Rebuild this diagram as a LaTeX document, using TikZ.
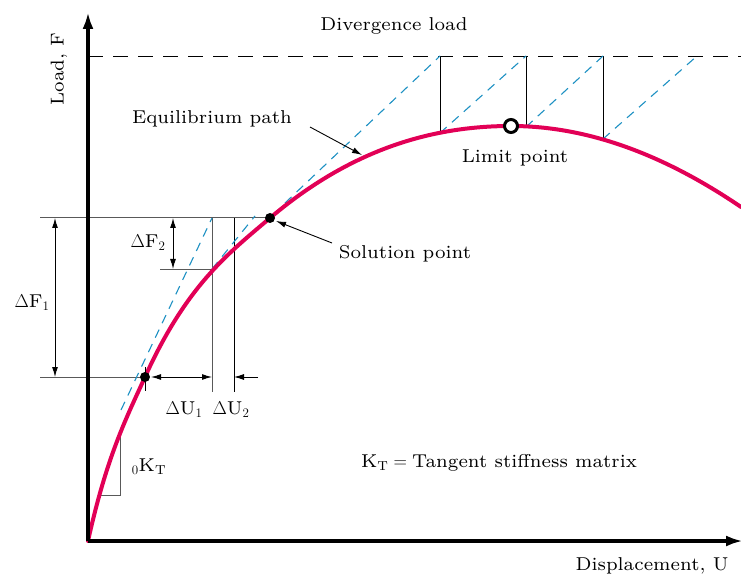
\RequirePackage{fix-cm}
\documentclass[tikz,border=0pt]{standalone}
\usepackage{fontspec}
\setmainfont{lmroman7-regular.otf}
\usepackage{amsmath}
\usepackage{tikz}
\usetikzlibrary{arrows.meta,positioning}
\definecolor{pathred}{RGB}{226,0,86}
\definecolor{tanblue}{RGB}{30,145,195}

\begin{document}
\begin{tikzpicture}[x=1pt,y=-1pt,lab/.style={font=\fontsize{18.6}{22}\selectfont,inner sep=0pt},
  axis/.style={line width=3.5pt,-{Latex[length=17pt,width=11pt]}},
  dim/.style={black!65,line width=1pt},dimarr/.style={line width=1pt,{Latex[length=10pt,width=6pt]}-{Latex[length=10pt,width=6pt]}},
  tang/.style={tanblue,line width=1.1pt,dash pattern=on 9pt off 7pt},ptr/.style={line width=0.9pt,-{Latex[length=10pt,width=6pt]}}]
\useasboundingbox (0,0) rectangle (741,577);
% points on the path
\coordinate (O) at (88,541); \coordinate (S1) at (145,377); \coordinate (S2) at (270,218); \coordinate (P1) at (212,269);
\coordinate (LP) at (511,126); \coordinate (C1) at (440,133); \coordinate (C2) at (526,127); \coordinate (C3) at (603,139);
% divergence level
\coordinate (D0) at (88,56); \coordinate (D1) at (440,56); \coordinate (D2) at (526,56); \coordinate (D3) at (603,56);
\coordinate (D4) at (697,56); \coordinate (Dend) at (741,56);
\draw[dash pattern=on 15pt off 10pt,line width=0.9pt] (D0) -- (Dend);
\foreach \a/\b in {D1/C1,D2/C2,D3/C3} \draw[line width=0.8pt] (\a) -- (\b);
\coordinate (S2a) at (285,203);
\foreach \a/\b in {S2a/D1,C1/D2,C2/D3,C3/D4} \draw[tang] (\a) -- (\b);
% increments
\coordinate (H1) at (40,218); \coordinate (H2) at (40,377); \coordinate (U1t) at (212,218); \coordinate (U1b) at (212,392);
\coordinate (U2t) at (234,218); \coordinate (U2b) at (234,392); \coordinate (A0) at (121,410); \coordinate (B1) at (255,216);
\draw[dim] (H1) -- (S2); \draw[dim] (H2) -- (S1); \draw[dim] (160,269) coordinate (F2l) -- (P1);
\draw[dim] (U1t) -- (U1b); \draw[line width=0.8pt] (U2t) -- (U2b);
\draw[tang] (A0) -- (U1t); \draw[tang] (P1) -- (B1);
\draw[dimarr] (55,218) coordinate (F1t) -- (55,377) coordinate (F1b);
\draw[dimarr] (173,218) coordinate (F2t) -- (173,269) coordinate (F2b);
\draw[dimarr] (151,377) coordinate (U1l) -- (212,377) coordinate (U1r);
\draw[ptr] (258,377) coordinate (U2r) -- (234,377) coordinate (U2l);
% initial stiffness
\draw[dim] (120,433) coordinate (K0a) -- (120,495) coordinate (K0b) -- (100,495) coordinate (K0c);
% equilibrium path
\draw[pathred,line width=4pt,line cap=round] (O) .. controls (107,455.5) and (126,418.8) .. (S1)
  .. controls (186.7,285) and (228.3,253.4) .. (S2) .. controls (350.3,150) and (430.7,126) .. (LP)
  .. controls (587.7,126) and (664.3,154.8) .. (741,207);
% axes
\draw[axis] (O) -- (88,12) coordinate (Ytop); \draw[axis] (O) -- (743,541) coordinate (Xend);
% markers
\draw[line width=0.8pt] (145,367) -- (145,391);
\fill (S1) circle (5pt); \fill (S2) circle (5pt);
\draw[line width=3pt,fill=white] (LP) circle (6.5pt);
% labels
\node[lab] (divlab) at (394,26) {Divergence load};
\node[lab,rotate=90] (ylab) at (59,69) {Load, F};
\node[lab] (eqlab) at (212,119) {Equilibrium path};
\node[lab] (lplab) at (515,158) {Limit point};
\node[lab] (solab) at (405,254) {Solution point};
\node[lab] (ktlab) at (499,463) {$\mathrm{K}_\mathrm{T} = {}$Tangent stiffness matrix};
\node[lab] (xlab) at (652,566) {Displacement, U};
\node[lab] (k0lab) at (149,467) {${}_0\mathrm{K}_\mathrm{T}$};
\node[lab] (f1lab) at (32,303) {$\Delta\mathrm{F}_1$};
\node[lab] (f2lab) at (148,243) {$\Delta\mathrm{F}_2$};
\node[lab] (u1lab) at (184,410) {$\Delta\mathrm{U}_1$};
\node[lab] (u2lab) at (231,410) {$\Delta\mathrm{U}_2$};
\coordinate (eqtip) at (362,155); \coordinate (eqtail) at (310,127);
\coordinate (sotip) at (276,221); \coordinate (sotail) at (332,243);
\draw[ptr] (eqtail) -- (eqtip); \draw[ptr] (sotail) -- (sotip);
\end{tikzpicture}
\end{document}
